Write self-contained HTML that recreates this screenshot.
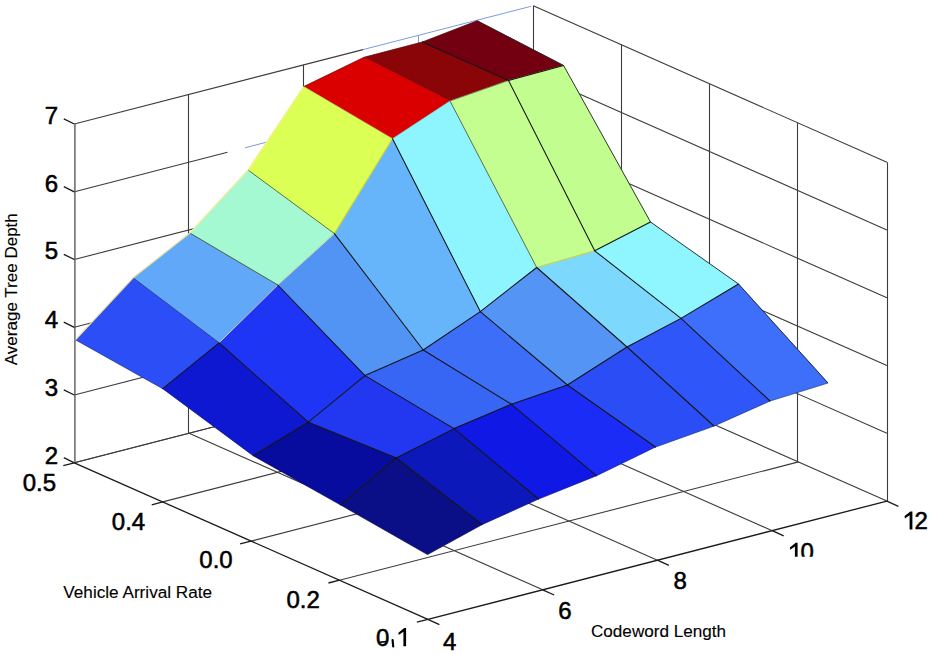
<!DOCTYPE html>
<html><head><meta charset="utf-8"><style>
html,body{margin:0;padding:0;background:#fff;}
body{width:931px;height:654px;overflow:hidden;}
svg{display:block;}
text{font-family:"Liberation Sans",sans-serif;fill:#000;stroke:#000;stroke-width:0.55px;}
.lab{stroke-width:0.12px;}
.g{stroke:#3c3c3c;stroke-width:1.1;fill:none;}
.zax{stroke:#5c5c5c;stroke-width:1.4;fill:none;}

.lb{stroke:#7d9be0;stroke-width:1;fill:none;}
.a{stroke:#1a1a1a;stroke-width:1.3;fill:none;}
polygon{stroke-width:0.6;stroke-linejoin:round;}
.e{stroke:#151515;stroke-width:1.05;fill:none;stroke-linecap:round;}
.ey{stroke:rgba(235,225,140,0.85);stroke-width:1.0;fill:none;}
.ey2{stroke:rgba(215,210,40,0.9);stroke-width:1.1;fill:none;}
.em{stroke:rgba(40,40,60,0.55);stroke-width:0.9;fill:none;}
.en{stroke:rgba(0,0,0,0.18);stroke-width:0.8;fill:none;}
.eo{stroke:rgba(70,70,10,0.75);stroke-width:1.0;fill:none;}
.bk{stroke:#202020;stroke-width:0.9;fill:none;stroke-linejoin:round;}
.bd{stroke:rgba(20,20,20,0.45);stroke-width:0.8;fill:none;stroke-linejoin:round;}
.by{stroke:rgba(250,235,150,0.9);stroke-width:1.3;fill:none;stroke-linejoin:round;}
</style></head><body>
<svg width="931" height="654" viewBox="0 0 931 654">
<defs><clipPath id="c10"><rect x="780" y="530" width="50" height="26.7"/></clipPath></defs>
<g><line class="g" x1="74.3" y1="462.8" x2="533.3" y2="344.5"/>
<line class="g" x1="74.3" y1="395.0" x2="533.3" y2="276.7"/>
<line class="g" x1="74.3" y1="327.3" x2="533.3" y2="209.0"/>
<line class="g" x1="74.3" y1="259.5" x2="533.3" y2="141.2"/>
<line class="g" x1="74.5" y1="191.7" x2="227.5" y2="152.3"/>
<line class="lb" x1="245.0" y1="147.8" x2="268.0" y2="141.8"/>
<line class="g" x1="300.0" y1="133.6" x2="533.3" y2="73.4"/>
<line class="g" x1="74.3" y1="124.0" x2="363.0" y2="49.6"/>
<line class="lb" x1="363.0" y1="49.6" x2="531.0" y2="6.3"/>
<line class="g" x1="188.5" y1="433.2" x2="188.5" y2="94.4"/>
<line class="g" x1="303.5" y1="403.6" x2="303.5" y2="64.8"/>
<line class="g" x1="533.5" y1="344.5" x2="533.5" y2="5.7"/>
<line class="lb" x1="418.5" y1="374.1" x2="418.5" y2="35.3"/>
<line class="g" x1="533.3" y1="344.5" x2="886.9" y2="501.1"/>
<line class="g" x1="533.3" y1="276.7" x2="886.9" y2="433.3"/>
<line class="g" x1="533.3" y1="209.0" x2="886.9" y2="365.6"/>
<line class="g" x1="533.3" y1="141.2" x2="886.9" y2="297.8"/>
<line class="g" x1="533.3" y1="73.4" x2="886.9" y2="230.0"/>
<line class="g" x1="533.3" y1="5.7" x2="886.9" y2="162.3"/>
<line class="g" x1="621.5" y1="383.6" x2="621.5" y2="44.8"/>
<line class="g" x1="709.5" y1="422.8" x2="709.5" y2="84.0"/>
<line class="g" x1="797.5" y1="461.9" x2="797.5" y2="123.1"/>
<line class="g" x1="887.5" y1="501.1" x2="887.5" y2="162.3"/>
<line class="g" x1="74.3" y1="462.8" x2="533.3" y2="344.5"/>
<line class="g" x1="162.7" y1="501.9" x2="621.7" y2="383.6"/>
<line class="g" x1="251.1" y1="541.1" x2="710.1" y2="422.8"/>
<line class="g" x1="339.5" y1="580.2" x2="798.5" y2="461.9"/>
<line class="g" x1="189.1" y1="433.2" x2="542.7" y2="589.8"/>
<line class="g" x1="303.8" y1="403.6" x2="657.4" y2="560.2"/>
<line class="g" x1="418.6" y1="374.1" x2="772.2" y2="530.7"/></g>
<g><line class="zax" x1="74.9" y1="462.8" x2="74.9" y2="124.0"/>
<line class="a" x1="74.3" y1="462.8" x2="427.9" y2="619.4"/>
<line class="a" x1="427.9" y1="619.4" x2="886.9" y2="501.1"/>
<line class="a" x1="74.3" y1="462.8" x2="63.8" y2="457.6"/>
<line class="a" x1="74.3" y1="395.0" x2="63.8" y2="389.8"/>
<line class="a" x1="74.3" y1="327.3" x2="63.8" y2="322.1"/>
<line class="a" x1="74.3" y1="259.5" x2="63.8" y2="254.3"/>
<line class="a" x1="74.3" y1="191.8" x2="63.8" y2="186.6"/>
<line class="a" x1="74.3" y1="124.0" x2="63.8" y2="118.8"/>
<line class="a" x1="74.3" y1="462.8" x2="63.3" y2="465.6"/>
<line class="a" x1="162.7" y1="501.9" x2="151.7" y2="504.8"/>
<line class="a" x1="251.1" y1="541.1" x2="240.1" y2="543.9"/>
<line class="a" x1="339.5" y1="580.2" x2="328.5" y2="583.0"/>
<line class="a" x1="427.9" y1="619.4" x2="416.9" y2="622.2"/>
<line class="a" x1="427.9" y1="619.4" x2="439.4" y2="624.6"/>
<line class="a" x1="542.7" y1="589.8" x2="554.2" y2="595.0"/>
<line class="a" x1="657.4" y1="560.2" x2="668.9" y2="565.4"/>
<line class="a" x1="772.2" y1="530.7" x2="783.7" y2="535.9"/>
<line class="a" x1="886.9" y1="501.1" x2="898.4" y2="506.3"/></g>
<g><polygon points="422.4,42.0 477.2,20.8 563.6,65.5 508.5,80.5" fill="#730010" stroke="#730010"/>
<polygon points="364.0,57.3 422.4,42.0 508.5,80.5 450.0,101.0" fill="#8a0508" stroke="#8a0508"/>
<polygon points="303.7,86.6 364.0,57.3 450.0,101.0 392.5,138.7" fill="#da0000" stroke="#da0000"/>
<polygon points="508.5,80.5 563.6,65.5 650.5,222.0 594.7,250.8" fill="#c2fd90" stroke="#c2fd90"/>
<polygon points="248.0,170.0 303.7,86.6 392.5,138.7 334.4,233.6" fill="#dcff55" stroke="#dcff55"/>
<polygon points="450.0,101.0 508.5,80.5 594.7,250.8 536.7,267.5" fill="#c4fd90" stroke="#c4fd90"/>
<polygon points="189.8,233.0 248.0,170.0 334.4,233.6 277.8,285.0" fill="#a4f8d2" stroke="#a4f8d2"/>
<polygon points="392.5,138.7 450.0,101.0 536.7,267.5 480.3,311.6" fill="#8ef5ff" stroke="#8ef5ff"/>
<polygon points="133.1,277.8 189.8,233.0 277.8,285.0 219.1,342.8" fill="#62a8f9" stroke="#62a8f9"/>
<polygon points="594.7,250.8 650.5,222.0 738.5,284.0 681.0,318.4" fill="#8ff5ff" stroke="#8ff5ff"/>
<polygon points="334.4,233.6 392.5,138.7 480.3,311.6 423.2,350.0" fill="#66b5fa" stroke="#66b5fa"/>
<polygon points="75.5,339.8 133.1,277.8 219.1,342.8 162.8,388.7" fill="#2b4ef7" stroke="#2b4ef7"/>
<polygon points="536.7,267.5 594.7,250.8 681.0,318.4 627.0,347.0" fill="#7cd8fc" stroke="#7cd8fc"/>
<polygon points="277.8,285.0 334.4,233.6 423.2,350.0 365.0,375.6" fill="#5294f4" stroke="#5294f4"/>
<polygon points="480.3,311.6 536.7,267.5 627.0,347.0 567.4,385.0" fill="#5394f4" stroke="#5394f4"/>
<polygon points="219.1,342.8 277.8,285.0 365.0,375.6 308.3,422.2" fill="#1f35f5" stroke="#1f35f5"/>
<polygon points="681.0,318.4 738.5,284.0 828.0,383.0 770.0,401.0" fill="#3e6ffb" stroke="#3e6ffb"/>
<polygon points="423.2,350.0 480.3,311.6 567.4,385.0 511.5,404.3" fill="#3d6ef8" stroke="#3d6ef8"/>
<polygon points="162.8,388.7 219.1,342.8 308.3,422.2 253.2,455.7" fill="#0e18d0" stroke="#0e18d0"/>
<polygon points="627.0,347.0 681.0,318.4 770.0,401.0 714.0,426.0" fill="#2e56f8" stroke="#2e56f8"/>
<polygon points="365.0,375.6 423.2,350.0 511.5,404.3 454.1,428.6" fill="#3766f5" stroke="#3766f5"/>
<polygon points="567.4,385.0 627.0,347.0 714.0,426.0 655.5,447.0" fill="#2a4df5" stroke="#2a4df5"/>
<polygon points="308.3,422.2 365.0,375.6 454.1,428.6 396.3,458.0" fill="#2138f0" stroke="#2138f0"/>
<polygon points="511.5,404.3 567.4,385.0 655.5,447.0 596.5,475.7" fill="#1b2cf7" stroke="#1b2cf7"/>
<polygon points="253.2,455.7 308.3,422.2 396.3,458.0 340.4,504.8" fill="#080c9e" stroke="#080c9e"/>
<polygon points="454.1,428.6 511.5,404.3 596.5,475.7 538.5,499.0" fill="#1018e6" stroke="#1018e6"/>
<polygon points="396.3,458.0 454.1,428.6 538.5,499.0 482.2,524.5" fill="#0c18ba" stroke="#0c18ba"/>
<polygon points="340.4,504.8 396.3,458.0 482.2,524.5 427.5,554.5" fill="#0a0f88" stroke="#0a0f88"/></g>
<g><line class="e" x1="162.8" y1="388.7" x2="219.1" y2="342.8"/>
<line class="ey" x1="219.1" y1="342.8" x2="277.8" y2="285.0"/>
<line class="ey" x1="277.8" y1="285.0" x2="334.4" y2="233.6"/>
<line class="ey2" x1="334.4" y1="233.6" x2="392.5" y2="138.7"/>
<line class="en" x1="392.5" y1="138.7" x2="450.0" y2="101.0"/>
<line class="em" x1="450.0" y1="101.0" x2="508.5" y2="80.5"/>
<line class="e" x1="508.5" y1="80.5" x2="563.6" y2="65.5"/>
<line class="e" x1="253.2" y1="455.7" x2="308.3" y2="422.2"/>
<line class="e" x1="308.3" y1="422.2" x2="365.0" y2="375.6"/>
<line class="e" x1="365.0" y1="375.6" x2="423.2" y2="350.0"/>
<line class="e" x1="423.2" y1="350.0" x2="480.3" y2="311.6"/>
<line class="e" x1="480.3" y1="311.6" x2="536.7" y2="267.5"/>
<line class="ey2" x1="536.7" y1="267.5" x2="594.7" y2="250.8"/>
<line class="e" x1="594.7" y1="250.8" x2="650.5" y2="222.0"/>
<line class="e" x1="340.4" y1="504.8" x2="396.3" y2="458.0"/>
<line class="e" x1="396.3" y1="458.0" x2="454.1" y2="428.6"/>
<line class="e" x1="454.1" y1="428.6" x2="511.5" y2="404.3"/>
<line class="e" x1="511.5" y1="404.3" x2="567.4" y2="385.0"/>
<line class="e" x1="567.4" y1="385.0" x2="627.0" y2="347.0"/>
<line class="e" x1="627.0" y1="347.0" x2="681.0" y2="318.4"/>
<line class="e" x1="681.0" y1="318.4" x2="738.5" y2="284.0"/>
<line class="em" x1="133.1" y1="277.8" x2="219.1" y2="342.8"/>
<line class="e" x1="219.1" y1="342.8" x2="308.3" y2="422.2"/>
<line class="e" x1="308.3" y1="422.2" x2="396.3" y2="458.0"/>
<line class="e" x1="396.3" y1="458.0" x2="482.2" y2="524.5"/>
<line class="eo" x1="189.8" y1="233.0" x2="277.8" y2="285.0"/>
<line class="e" x1="277.8" y1="285.0" x2="365.0" y2="375.6"/>
<line class="e" x1="365.0" y1="375.6" x2="454.1" y2="428.6"/>
<line class="e" x1="454.1" y1="428.6" x2="538.5" y2="499.0"/>
<line class="eo" x1="248.0" y1="170.0" x2="334.4" y2="233.6"/>
<line class="e" x1="334.4" y1="233.6" x2="423.2" y2="350.0"/>
<line class="e" x1="423.2" y1="350.0" x2="511.5" y2="404.3"/>
<line class="e" x1="511.5" y1="404.3" x2="596.5" y2="475.7"/>
<line class="en" x1="303.7" y1="86.6" x2="392.5" y2="138.7"/>
<line class="e" x1="392.5" y1="138.7" x2="480.3" y2="311.6"/>
<line class="e" x1="480.3" y1="311.6" x2="567.4" y2="385.0"/>
<line class="e" x1="567.4" y1="385.0" x2="655.5" y2="447.0"/>
<line class="en" x1="364.0" y1="57.3" x2="450.0" y2="101.0"/>
<line class="eo" x1="450.0" y1="101.0" x2="536.7" y2="267.5"/>
<line class="e" x1="536.7" y1="267.5" x2="627.0" y2="347.0"/>
<line class="e" x1="627.0" y1="347.0" x2="714.0" y2="426.0"/>
<line class="e" x1="422.4" y1="42.0" x2="508.5" y2="80.5"/>
<line class="e" x1="508.5" y1="80.5" x2="594.7" y2="250.8"/>
<line class="e" x1="594.7" y1="250.8" x2="681.0" y2="318.4"/>
<line class="e" x1="681.0" y1="318.4" x2="770.0" y2="401.0"/>
<polyline class="by" points="75.5,339.8 133.1,277.8 189.8,233.0 248.0,170.0 303.7,86.6"/>
<polyline class="bd" points="303.7,86.6 364.0,57.3 422.4,42.0 477.2,20.8"/>
<polyline class="bd" points="75.5,339.8 162.8,388.7 253.2,455.7 340.4,504.8 427.5,554.5"/>
<polyline class="bd" points="427.5,554.5 482.2,524.5 538.5,499.0 596.5,475.7 655.5,447.0 714.0,426.0 770.0,401.0 828.0,383.0"/>
<polyline class="bk" points="477.2,20.8 563.6,65.5 650.5,222.0 738.5,284.0 828.0,383.0"/></g>
<g><text x="58.0" y="463.7" font-size="24" text-anchor="end" >2</text>
<text x="58.0" y="395.5" font-size="24" text-anchor="end" >3</text>
<text x="58.0" y="327.5" font-size="24" text-anchor="end" >4</text>
<text x="58.0" y="259.2" font-size="24" text-anchor="end" >5</text>
<text x="58.0" y="191.6" font-size="24" text-anchor="end" >6</text>
<text x="58.0" y="124.4" font-size="24" text-anchor="end" >7</text>
<text x="22.7" y="491.1" font-size="24" text-anchor="start" >0.5</text>
<text x="111.8" y="529.8" font-size="24" text-anchor="start" >0.4</text>
<text x="199.3" y="567.8" font-size="24" text-anchor="start" >0.0</text>
<text x="286.5" y="607.5" font-size="24" text-anchor="start" >0.2</text>
<text x="376.0" y="646.3" font-size="24" text-anchor="start" >0</text>
<text x="443.0" y="650.3" font-size="24" text-anchor="start" >4</text>
<text x="558.2" y="618.5" font-size="24" text-anchor="start" >6</text>
<text x="673.5" y="588.8" font-size="24" text-anchor="start" >8</text>
<text x="914.6" y="529.4" font-size="24" text-anchor="start" >2</text>
<text x="800.6" y="559.8" font-size="24" text-anchor="start" clip-path="url(#c10)">0</text>
<text x="63.3" y="597.6" font-size="17.2" text-anchor="start" class="lab" textLength="148.8" lengthAdjust="spacingAndGlyphs">Vehicle Arrival Rate</text>
<text x="591.0" y="636.6" font-size="17.2" text-anchor="start" class="lab" textLength="135" lengthAdjust="spacingAndGlyphs">Codeword Length</text>
<text x="0.0" y="0.0" font-size="17.2" text-anchor="middle" class="lab" textLength="152" lengthAdjust="spacingAndGlyphs" transform="translate(17.1,289.2) rotate(-90)">Average Tree Depth</text></g>
<g><path d="M403.4,646.3 L406.1,646.3 L406.1,628.1 L404.2,628.1 L398.4,632.7 L398.7,635.0 L403.4,631.8 Z" fill="#000"/>
<path d="M392.6,640 L393.2,646.5" stroke="#000" stroke-width="2.2" fill="none" stroke-linecap="round"/>
<path d="M379.5,642.2 L386.5,641.6" stroke="#000" stroke-width="1.6" fill="none"/>
<path d="M909.6,529.4 L912.4,529.4 L912.4,511.5 L910.4,511.5 L904.6,516.1 L904.9,518.4 L909.6,515.2 Z" fill="#000"/>
<path d="M794.9,559.8 L797.6,559.8 L797.6,542.8 L795.7,542.8 L789.9,547.4 L790.2,549.7 L794.9,546.5 Z" fill="#000" clip-path="url(#c10)"/></g>
</svg>
</body></html>
